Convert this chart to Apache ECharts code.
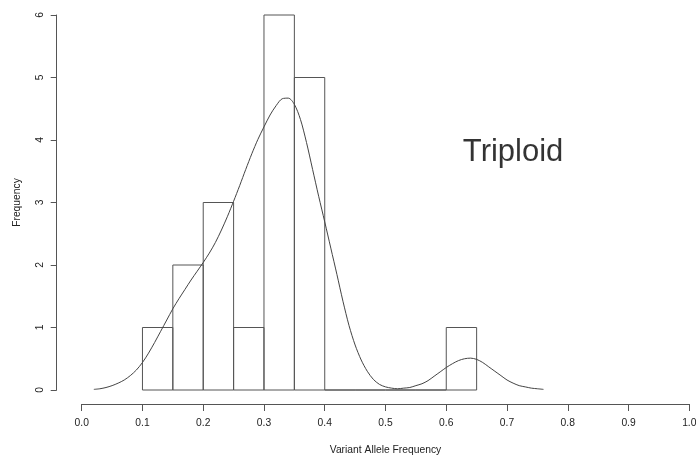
<!DOCTYPE html>
<html>
<head>
<meta charset="utf-8">
<script src="https://cdn.jsdelivr.net/npm/echarts@6/dist/echarts.min.js"></script>
<style>
html,body{margin:0;padding:0;background:#fff;}
#chart{width:696px;height:457px;}
</style>
</head>
<body>
<div id="chart"></div>
<script>
// Histogram bin edges and counts
var binEdges = [0.10,0.15,0.20,0.25,0.30,0.35,0.40,0.45,0.50,0.55,0.60,0.65];
var binCounts = [1,2,3,1,6,5,0,0,0,0,1];
// Density curve (scaled to frequency) at x = 0.02 .. 0.76 step 0.01
var curveX = [0.02,0.03,0.04,0.05,0.06,0.07,0.08,0.09,0.10,0.11,0.12,0.13,0.14,0.15,0.16,0.17,0.18,0.19,0.20,0.21,0.22,0.23,0.24,0.25,0.26,0.27,0.28,0.29,0.30,0.31,0.32,0.33,0.34,0.35,0.36,0.37,0.38,0.39,0.40,0.41,0.42,0.43,0.44,0.45,0.46,0.47,0.48,0.49,0.50,0.51,0.52,0.53,0.54,0.55,0.56,0.57,0.58,0.59,0.60,0.61,0.62,0.63,0.64,0.65,0.66,0.67,0.68,0.69,0.70,0.71,0.72,0.73,0.74,0.75,0.76];
var curveY = [0.01,0.02,0.04,0.07,0.11,0.16,0.23,0.32,0.44,0.59,0.76,0.94,1.12,1.30,1.46,1.61,1.76,1.90,2.04,2.19,2.36,2.56,2.78,3.02,3.27,3.53,3.78,4.01,4.21,4.40,4.55,4.66,4.67,4.57,4.33,3.96,3.53,3.10,2.69,2.27,1.85,1.42,1.03,0.72,0.48,0.30,0.17,0.09,0.05,0.03,0.02,0.03,0.04,0.07,0.10,0.15,0.22,0.29,0.36,0.42,0.47,0.50,0.51,0.49,0.44,0.37,0.30,0.23,0.16,0.11,0.07,0.05,0.03,0.02,0.01];
// Axis ticks
var xTicks = [0.0,0.1,0.2,0.3,0.4,0.5,0.6,0.7,0.8,0.9,1.0];
var yTicks = [0,1,2,3,4,5,6];
// Annotation
var annotation = {text:'Triploid', x:0.71, y:3.80};

var histData = binCounts.map(function(c,i){ return [binEdges[i], binEdges[i+1], c]; });
var curveData = curveX.map(function(x,i){ return [x, curveY[i]]; });

var FONT = 'Liberation Sans, Arial, Helvetica, sans-serif';
var chart = echarts.init(document.getElementById('chart'), null, {renderer:'canvas'});
chart.setOption({
  animation:false,
  backgroundColor:'#fff',
  grid:{left:81.7, right:6.7, top:15, bottom:67, containLabel:false, outerBoundsMode:'none'},
  xAxis:{
    type:'value', min:xTicks[0], max:xTicks[xTicks.length-1], interval:0.1,
    offset:14,
    name:'Variant Allele Frequency', nameLocation:'middle', nameGap:41,
    nameTextStyle:{fontFamily:FONT, fontSize:10.3, color:'#222'},
    axisLine:{show:true, onZero:false, lineStyle:{color:'#555', width:1}},
    axisTick:{show:true, inside:false, length:7, lineStyle:{color:'#555'}},
    axisLabel:{show:true, margin:14, fontFamily:FONT, fontSize:10.3, color:'#222',
      formatter:function(v){ return v.toFixed(1); }},
    splitLine:{show:false}
  },
  yAxis:{
    type:'value', min:yTicks[0], max:yTicks[yTicks.length-1], interval:1,
    offset:25,
    name:'Frequency', nameLocation:'middle', nameGap:35, nameRotate:90,
    nameTextStyle:{fontFamily:FONT, fontSize:10.3, color:'#222'},
    axisLine:{show:true, onZero:false, lineStyle:{color:'#555', width:1}},
    axisTick:{show:true, inside:false, length:6, lineStyle:{color:'#555'}},
    axisLabel:{show:true, rotate:90, margin:12, fontFamily:FONT, fontSize:10.3, color:'#222'},
    splitLine:{show:false}
  },
  series:[
    {
      type:'custom',
      data:histData,
      encode:{x:[0,1], y:2},
      renderItem:function(params, api){
        var p0 = api.coord([api.value(0), api.value(2)]);
        var p1 = api.coord([api.value(1), 0]);
        return {
          type:'rect',
          shape:{x:p0[0], y:p0[1], width:p1[0]-p0[0], height:p1[1]-p0[1]},
          style:{fill:'none', stroke:'#555', lineWidth:1}
        };
      },
      z:2
    },
    {
      type:'line',
      data:curveData,
      smooth:0.3,
      showSymbol:false,
      symbol:'none',
      lineStyle:{color:'#444', width:1},
      z:3
    },
    {
      type:'scatter',
      data:[[annotation.x, annotation.y]],
      symbolSize:0,
      label:{show:true, position:'inside', formatter:annotation.text,
        fontFamily:FONT, fontSize:31, color:'#000'},
      z:4
    }
  ]
});
</script>
</body>
</html>
